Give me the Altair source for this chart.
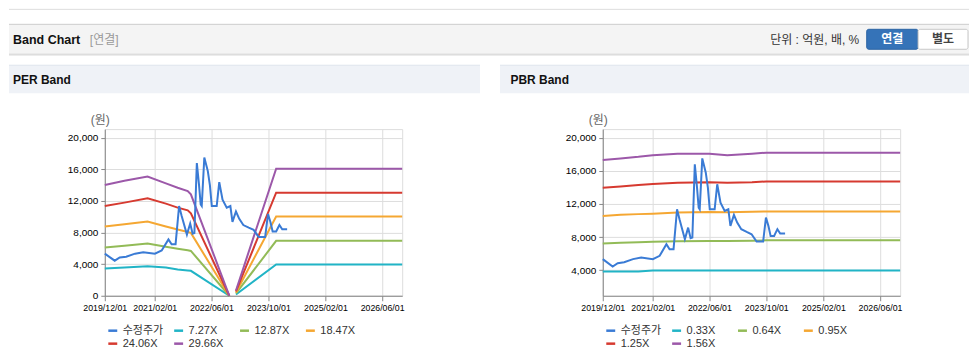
import altair as alt
import pandas as pd

# ---------------- data ----------------
price_dates = [
    "2019-12-01", "2020-02-24", "2020-04-07", "2020-06-01", "2020-08-16", "2020-10-25",
    "2021-02-02", "2021-04-01", "2021-05-29", "2021-06-25", "2021-07-29", "2021-08-28",
    "2021-09-18", "2021-11-03", "2021-12-01", "2021-12-22", "2022-01-06", "2022-01-27",
    "2022-02-15", "2022-03-01", "2022-03-10", "2022-04-01", "2022-05-01", "2022-05-19",
    "2022-06-04", "2022-07-16", "2022-08-07", "2022-09-04", "2022-10-10", "2022-11-10",
    "2022-11-28", "2022-12-28", "2023-01-25", "2023-03-01", "2023-04-16", "2023-05-28",
    "2023-07-10", "2023-09-04", "2023-09-28", "2023-10-19", "2023-11-07", "2023-12-07",
    "2024-01-04", "2024-01-28", "2024-03-10",
]
price_values = [
    5330, 4440, 4840, 4950, 5330, 5520,
    5330, 5730, 7140, 6530, 6530, 11360,
    10150, 7740, 9140, 7860, 7940, 16790,
    13970, 11560, 11360, 17510, 15780, 13970,
    11360, 11360, 14380, 12160, 11160, 11360,
    9350, 10670, 9740, 8950, 8620, 8340,
    7450, 7450, 10350, 9350, 8140, 8140,
    8950, 8420, 8420,
]

per_dates = ["2019-12-01", "2020-05-17", "2020-12-01", "2021-05-07", "2021-08-16",
             "2021-11-10", "2021-12-07", "2022-11-01",
             "2022-12-28", "2023-12-07", "2026-11-20"]
per_seg = [1, 1, 1, 1, 1, 1, 1, 1, 2, 2, 2]
per_727 = [3450, 3580, 3750, 3580, 3330, 3200, 3160, 0, 160, 3960, 3960]
per_1287 = [6100, 6320, 6610, 6200, 5950, 5750, 5680, 0, 290, 6950, 6950]
per_1847 = [8760, 9050, 9390, 8770, 8400, 8080, 7960, 0, 420, 10020, 10020]
per_2406 = [11370, 11790, 12340, 11660, 11160, 10820, 10440, 0, 540, 13050, 13050]
per_2966 = [14020, 14570, 15100, 14230, 13680, 13260, 12840, 0, 670, 16080, 16080]

pbr_dates = ["2019-12-01", "2020-05-01", "2020-10-01", "2021-02-01", "2021-09-01",
             "2022-06-01", "2022-11-01", "2023-06-01", "2023-10-01", "2026-11-20"]
pbr_033 = [3830, 3830, 3830, 3950, 3950, 3950, 3950, 3950, 3950, 3950]
pbr_064 = [7210, 7300, 7360, 7420, 7490, 7530, 7520, 7560, 7600, 7600]
pbr_095 = [10550, 10680, 10770, 10830, 10970, 11030, 10990, 11050, 11100, 11100]
pbr_125 = [13970, 14120, 14290, 14420, 14570, 14620, 14560, 14610, 14720, 14720]
pbr_156 = [17300, 17500, 17700, 17900, 18070, 18070, 17880, 18070, 18200, 18200]

per_series = ["수정주가", "7.27X", "12.87X", "18.47X", "24.06X", "29.66X"]
pbr_series = ["수정주가", "0.33X", "0.64X", "0.95X", "1.25X", "1.56X"]
line_colors = ["#3a7bd5", "#21b4c6", "#92bb57", "#f5a732", "#d63a30", "#9c58a9"]

x_ticks = [(2019, 12), (2021, 2), (2022, 6), (2023, 10), (2025, 2), (2026, 6)]
per_y_ticks = [0, 4000, 8000, 12000, 16000, 20000]
pbr_y_ticks = [4000, 8000, 12000, 16000, 20000]

FONT = "Liberation Sans, Noto Sans CJK KR"

# ---------------- tables ----------------
price_df = pd.DataFrame({"date": price_dates, "value": price_values, "series": "수정주가", "seg": 1})

per_df = pd.concat([
    pd.DataFrame({"date": per_dates, "value": v, "series": n, "seg": per_seg})
    for n, v in zip(per_series[1:], [per_727, per_1287, per_1847, per_2406, per_2966])
])
pbr_df = pd.concat([
    pd.DataFrame({"date": pbr_dates, "value": v, "series": n, "seg": 1})
    for n, v in zip(pbr_series[1:], [pbr_033, pbr_064, pbr_095, pbr_125, pbr_156])
])

one = pd.DataFrame({"k": [0]})


def dt(y, m, d=1):
    return alt.DateTime(year=y, month=m, date=d, utc=True)


def rect(x1, x2, y1, y2, fill, stroke=None, radius=0):
    kw = dict(fill=fill, cornerRadius=radius)
    if stroke:
        kw["stroke"] = stroke
        kw["strokeWidth"] = 1
    return alt.Chart(one).mark_rect(**kw).encode(
        x=alt.value(x1), x2=alt.value(x2), y=alt.value(y1), y2=alt.value(y2))


def hline(x1, x2, y, color, width=1):
    return alt.Chart(one).mark_rule(color=color, strokeWidth=width).encode(
        x=alt.value(x1), x2=alt.value(x2), y=alt.value(y))


def label(x, y, txt, size=12, color="#111", bold=False, align="left"):
    return alt.Chart(one).mark_text(
        font=FONT, fontSize=size, color=color, fontWeight="bold" if bold else "normal",
        align=align, baseline="middle").encode(
        x=alt.value(x), y=alt.value(y), text=alt.value(txt))


def panel(band_df, series, y_domain, y_ticks):
    x = alt.X("date:T", title=None,
              scale=alt.Scale(type="utc", domain=[dt(2019, 12, 1), dt(2026, 11, 20)]),
              axis=alt.Axis(values=[dt(y, m) for y, m in x_ticks],
                            labelExpr="utcFormat(datum.value, '%Y/%m/%d')",
                            labelFlush=False, labelOverlap=False, labelFontSize=8.8,
                            tickSize=5, labelPadding=3))
    y = alt.Y("value:Q", scale=alt.Scale(domain=y_domain, nice=False, zero=False),
              axis=alt.Axis(values=y_ticks, format=",.0f", title="(원)", titleAngle=0,
                            titleX=-5, titleY=-10, titleAlign="center",
                            titleBaseline="middle", titleFont=FONT, titleFontSize=12,
                            titleFontWeight="normal", titleColor="#666",
                            tickSize=4, labelPadding=3))
    color = alt.Color("series:N", scale=alt.Scale(domain=series, range=line_colors),
                      sort=series,
                      legend=alt.Legend(orient="none", legendX=2, legendY=196, columns=4,
                                        direction="horizontal",
                                        title=None, symbolType="stroke", symbolSize=80,
                                        symbolStrokeWidth=2.5, labelFont=FONT,
                                        labelFontSize=11, labelColor="#333",
                                        labelOffset=4, gridAlign="all",
                                        columnPadding=5, rowPadding=2, padding=0))
    bands = alt.Chart(band_df).mark_line(strokeWidth=2).encode(
        x=x, y=y, color=color, detail="seg:N")
    price = alt.Chart(price_df).mark_line(strokeWidth=2).encode(
        x=x, y=y, color=color, detail="seg:N")
    return bands, price


per_bands, per_price = panel(per_df, per_series, [0, 21100], per_y_ticks)
pbr_bands, pbr_price = panel(pbr_df, pbr_series, [900, 21050], pbr_y_ticks)

# page header and PER panel header (positions relative to PER plot origin)
per_chart = alt.layer(
    hline(-96, 866, -120, "#dddddd"),
    rect(-96, 866, -105, -75, "#f4f4f4"),
    hline(-96, 866, -105, "#cccccc"),
    hline(-96, 866, -75, "#cfcfcf"),
    hline(-96, 866, -74, "#e6e6e6"),
    label(-92, -89, "Band Chart", size=12.5, bold=True),
    label(-15, -89, "[연결]", size=12, color="#999999"),
    label(756, -89, "단위 : 억원, 배, %", size=12, color="#333333", align="right"),
    rect(763.5, 815, -100, -80, "#3573b8", stroke="#2c64a4", radius=2),
    label(789, -90, "연결", size=12, color="#ffffff", bold=True, align="center"),
    rect(815, 865, -100, -80, "#ffffff", stroke="#c8c8c8", radius=2),
    label(840, -90, "별도", size=12, color="#444444", bold=True, align="center"),
    rect(-96, 376, -64, -36, "#eff2f7"),
    hline(-96, 376, -64, "#dfe4ec"),
    label(-92, -49, "PER Band", size=12, bold=True),
    per_bands,
    per_price,
).properties(width=298, height=167)

pbr_chart = alt.layer(
    rect(-103, 367, -64, -36, "#eff2f7"),
    hline(-103, 367, -64, "#dfe4ec"),
    label(-92.5, -49, "PBR Band", size=12, bold=True),
    pbr_bands,
    pbr_price,
).properties(width=298, height=167)

chart = alt.hconcat(per_chart, pbr_chart, spacing=201, bounds="flush").resolve_scale(
    color="independent", x="independent", y="independent"
).properties(padding=0).configure_view(
    stroke="#c4c4c4", strokeWidth=1
).configure_axis(
    labelFont=FONT, labelFontSize=9.5, labelColor="#555555",
    domainColor="#b0b0b0", tickColor="#b0b0b0", gridColor="#e8e8e8"
).configure(background="#ffffff")

chart.save("out.html", embed_options={"renderer": "svg", "actions": False})
